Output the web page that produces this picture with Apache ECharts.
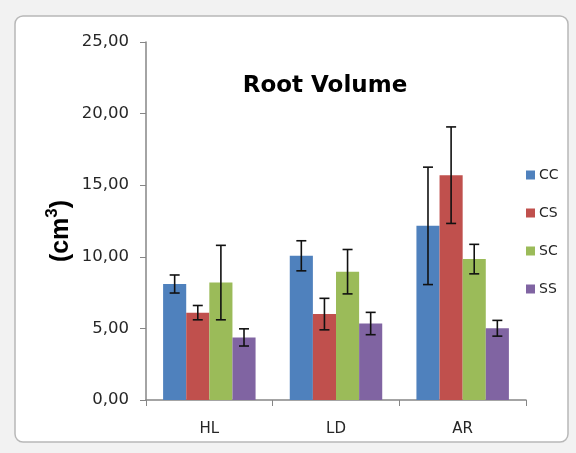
<!DOCTYPE html>
<html>
<head>
<meta charset="utf-8">
<script src="https://cdn.jsdelivr.net/npm/echarts@6/dist/echarts.min.js"></script>
<style>
html,body{margin:0;padding:0;background:#f2f2f2;}
#chart{width:576px;height:453px;}
</style>
</head>
<body>
<div id="chart"></div>
<script>
const categories = ['HL', 'LD', 'AR'];
const seriesNames = ['CC', 'CS', 'SC', 'SS'];
const CC = [8.10, 10.07, 12.16];
const CS = [6.10, 6.00, 15.70];
const SC = [8.20, 8.96, 9.84];
const SS = [4.37, 5.34, 5.01];
const CC_err = [0.63, 1.05, 4.10];
const CS_err = [0.50, 1.10, 3.37];
const SC_err = [2.60, 1.55, 1.03];
const SS_err = [0.60, 0.78, 0.55];
const yTicks = [0, 5, 10, 15, 20, 25];

const values = [CC, CS, SC, SS];
const errors = [CC_err, CS_err, SC_err, SS_err];
const colors = ['#4F81BD', '#C0504D', '#9BBB59', '#8064A2'];
const catGap = 0.27;

const chart = echarts.init(document.getElementById('chart'));
const FONT = 'DejaVu Sans';

const series = [];
values.forEach((v, i) => {
  series.push({
    name: seriesNames[i],
    type: 'bar',
    data: v,
    itemStyle: { color: colors[i] },
    barGap: '0%',
    barCategoryGap: (catGap * 100) + '%',
    z: 2
  });
});
values.forEach((v, i) => {
  series.push({
    name: seriesNames[i] + '_err',
    type: 'custom',
    z: 5,
    data: v.map((val, j) => [j, val - errors[i][j], val + errors[i][j]]),
    renderItem: function (params, api) {
      const cat = api.value(0);
      const lo = api.coord([cat, api.value(1)]);
      const hi = api.coord([cat, api.value(2)]);
      const bandW = api.size([1, 0])[0];
      const barW = bandW * (1 - catGap) / 4;
      const x = lo[0] + (i - 1.5) * barW;
      const cap = 5;
      const st = { stroke: '#111', lineWidth: 1.6 };
      return {
        type: 'group',
        children: [
          { type: 'line', shape: { x1: x, y1: lo[1], x2: x, y2: hi[1] }, style: st },
          { type: 'line', shape: { x1: x - cap, y1: lo[1], x2: x + cap, y2: lo[1] }, style: st },
          { type: 'line', shape: { x1: x - cap, y1: hi[1], x2: x + cap, y2: hi[1] }, style: st }
        ]
      };
    }
  });
});

chart.setOption({
  backgroundColor: '#f2f2f2',
  animation: false,
  graphic: [
    {
      type: 'rect', z: -10, silent: true,
      shape: { x: 15, y: 16, width: 553, height: 426, r: 8 },
      style: { fill: '#ffffff', stroke: '#b8b8b8', lineWidth: 1.5 }
    },
    {
      type: 'text', z: 10,
      x: 61, y: 231, rotation: Math.PI / 2,
      style: {
        text: '{a|(cm}{b|3}{a|)}',
        align: 'center', verticalAlign: 'middle',
        rich: {
          a: { fontFamily: 'Liberation Sans', fontWeight: 'bold', fontSize: 25, lineHeight: 34, fill: '#000', verticalAlign: 'middle' },
          b: { fontFamily: 'Liberation Sans', fontWeight: 'bold', fontSize: 17, lineHeight: 34, fill: '#000', verticalAlign: 'top' }
        }
      }
    }
  ],
  title: {
    text: 'Root Volume',
    left: 320, top: 70,
    textAlign: 'center',
    textStyle: { fontFamily: 'DejaVu Sans', fontWeight: 'bold', fontSize: 23, color: '#000' }
  },
  legend: {
    orient: 'vertical',
    left: 521, top: 163,
    data: seriesNames,
    itemWidth: 9, itemHeight: 9, itemGap: 24,
    icon: 'rect',
    textStyle: { fontFamily: FONT, fontSize: 14, color: '#262626', padding: [0, 0, 0, -1] }
  },
  grid: { left: 146, right: 50, top: 42, bottom: 53 },
  xAxis: {
    type: 'category',
    data: categories,
    axisLine: { lineStyle: { color: '#868686', width: 1.5 } },
    axisTick: { show: true, alignWithLabel: false, length: 6, lineStyle: { color: '#868686' } },
    axisLabel: { fontFamily: FONT, fontSize: 15, color: '#262626', margin: 22 }
  },
  yAxis: {
    type: 'value',
    min: 0, max: 25, interval: 5,
    splitLine: { show: false },
    axisLine: { show: true, lineStyle: { color: '#868686', width: 1.5 } },
    axisTick: { show: true, length: 6, lineStyle: { color: '#868686' } },
    axisLabel: {
      fontFamily: FONT, fontSize: 16.5, color: '#262626', margin: 17,
      formatter: v => yTicks.indexOf(v) >= 0 ? v.toFixed(2).replace('.', ',') : ''
    }
  },
  series: series
});
</script>
</body>
</html>
